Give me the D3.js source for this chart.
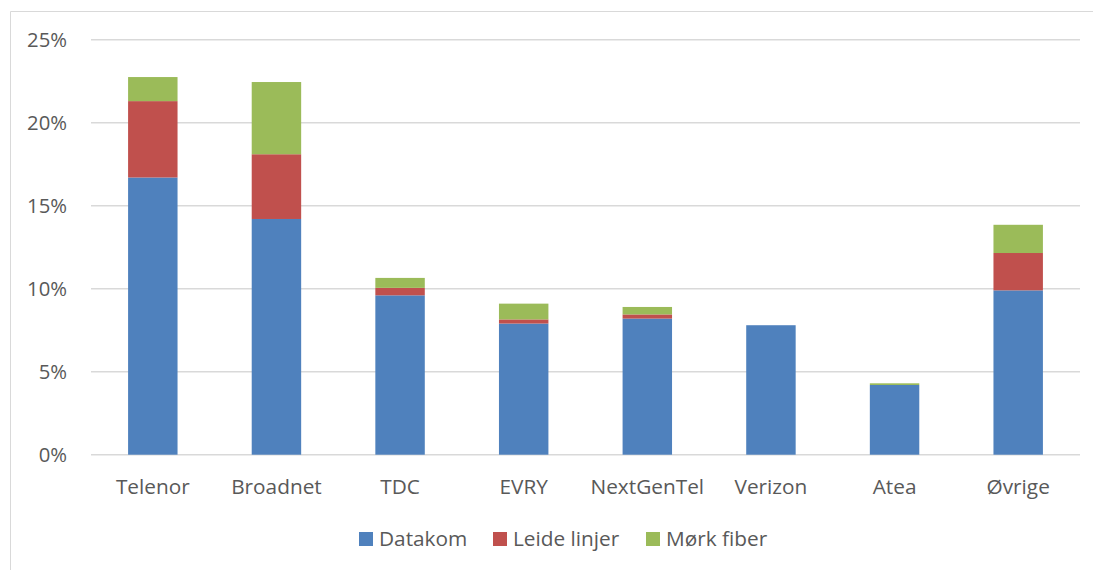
<!DOCTYPE html>
<html><head><meta charset="utf-8">
<script src="https://cdn.jsdelivr.net/npm/d3@7"></script>
<style>body{margin:0;background:#fff;}svg{display:block;}</style>
</head><body>
<svg id="c" width="1093" height="570"></svg>
<script>
const categories = ["Telenor","Broadnet","TDC","EVRY","NextGenTel","Verizon","Atea","Øvrige"];
const datakom     = [16.7, 14.2, 9.6, 7.9, 8.2, 7.8, 4.2, 9.9];
const leideLinjer = [4.6, 3.9, 0.45, 0.25, 0.25, 0.0, 0.0, 2.25];
const morkFiber   = [1.45, 4.35, 0.6, 0.95, 0.45, 0.0, 0.1, 1.7];
const seriesNames = ["Datakom","Leide linjer","Mørk fiber"];
const colors = ["#4F81BD","#C0504D","#9BBB59"];
const yTicks = [0,5,10,15,20,25];

(function(){
const svg = d3.select("#c");
const font = "'Open Sans', sans-serif";
const textColor = "#595959";

svg.append("path").attr("d","M10.5,570 L10.5,11.5 L1093,11.5")
  .attr("fill","none").attr("stroke","#D9D9D9").attr("stroke-width",1);

const mLeft = 91, mRight = 1080, mTop = 39.7, mBottom = 454.7;
const x = d3.scaleBand().domain(categories).range([mLeft,mRight]).paddingInner(0.6).paddingOuter(0.3);
const y = d3.scaleLinear().domain([0,25]).range([mBottom, mTop]);

svg.append("g").selectAll("line").data(yTicks).join("line")
  .attr("x1",mLeft).attr("x2",mRight)
  .attr("y1",d=>y(d)).attr("y2",d=>y(d))
  .attr("stroke","#D9D9D9").attr("stroke-width",1.5);

const yAxis = d3.axisLeft(y).tickValues(yTicks).tickFormat(d=>d+"%").tickSize(0).tickPadding(0);
const ya = svg.append("g").attr("transform",`translate(${mLeft-24},0)`).call(yAxis);
ya.select(".domain").remove();
ya.selectAll("text").attr("font-family",font).attr("font-size",20.3).attr("fill",textColor);

const rows = categories.map((c,i)=>({cat:c, "Datakom":datakom[i], "Leide linjer":leideLinjer[i], "Mørk fiber":morkFiber[i]}));
const stack = d3.stack().keys(seriesNames)(rows);
svg.append("g").selectAll("g").data(stack).join("g")
  .attr("fill",(d,i)=>colors[i])
  .selectAll("rect").data(d=>d).join("rect")
  .attr("x",d=>x(d.data.cat)).attr("width",x.bandwidth())
  .attr("y",d=>y(d[1])).attr("height",d=>Math.max(0,y(d[0])-y(d[1])));

const xAxis = d3.axisBottom(x).tickSize(0).tickPadding(0);
const xa = svg.append("g").attr("transform",`translate(0,${mBottom+39})`).call(xAxis);
xa.select(".domain").remove();
xa.selectAll("text").attr("dy",0).attr("font-family",font).attr("font-size",20.8).attr("fill",textColor);

const legendX = [359, 493, 646];
const lg = svg.append("g").selectAll("g").data(seriesNames).join("g")
  .attr("transform",(d,i)=>`translate(${legendX[i]},532)`);
lg.append("rect").attr("width",14).attr("height",14).attr("fill",(d,i)=>colors[i]);
lg.append("text").attr("x",20).attr("y",14).text(d=>d)
  .attr("font-family",font).attr("font-size",20.8).attr("fill",textColor);
})();
</script>
</body></html>
